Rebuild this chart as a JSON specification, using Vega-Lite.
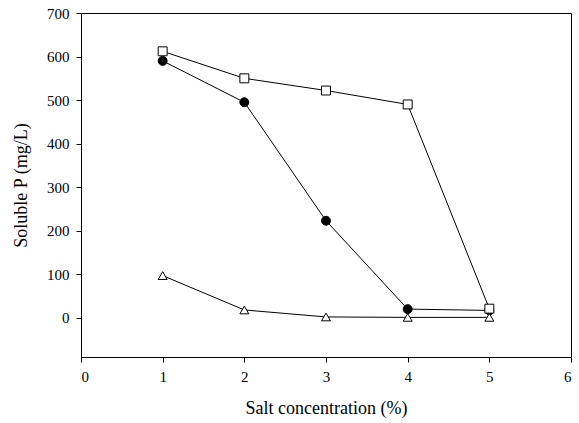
{
  "$schema": "https://vega.github.io/schema/vega-lite/v6.json",
  "width": 490,
  "height": 344,
  "autosize": {"type": "none"},
  "padding": {"left": 81, "top": 13, "right": 8, "bottom": 66},
  "background": "white",
  "config": {
    "view": {"stroke": "black", "strokeWidth": 1},
    "font": "Liberation Serif",
    "axis": {
      "labelFont": "Liberation Serif",
      "titleFont": "Liberation Serif",
      "labelFontSize": 15,
      "titleFontSize": 18,
      "titleFontWeight": "normal",
      "labelColor": "black",
      "titleColor": "black",
      "domainColor": "black",
      "tickColor": "black",
      "grid": false,
      "tickSize": 5
    }
  },
  "data": {
    "values": [
      {"salt": 1, "P": 590, "series": "B"},
      {"salt": 2, "P": 495, "series": "B"},
      {"salt": 3, "P": 223, "series": "B"},
      {"salt": 4, "P": 20, "series": "B"},
      {"salt": 5, "P": 17, "series": "B"},
      {"salt": 1, "P": 97, "series": "C"},
      {"salt": 2, "P": 18, "series": "C"},
      {"salt": 3, "P": 2, "series": "C"},
      {"salt": 4, "P": 1, "series": "C"},
      {"salt": 5, "P": 1, "series": "C"},
      {"salt": 1, "P": 612, "series": "A"},
      {"salt": 2, "P": 550, "series": "A"},
      {"salt": 3, "P": 522, "series": "A"},
      {"salt": 4, "P": 490, "series": "A"},
      {"salt": 5, "P": 21, "series": "A"}
    ]
  },
  "encoding": {
    "x": {
      "field": "salt", "type": "quantitative",
      "scale": {"domain": [0, 6], "nice": false},
      "axis": {"values": [0, 1, 2, 3, 4, 5, 6], "title": "Salt concentration (%)", "titlePadding": 15, "labelPadding": 7}
    },
    "y": {
      "field": "P", "type": "quantitative",
      "scale": {"domain": [-90, 700], "nice": false, "zero": false},
      "axis": {"values": [0, 100, 200, 300, 400, 500, 600, 700], "title": "Soluble P (mg/L)", "titlePadding": 16, "labelPadding": 7}
    }
  },
  "layer": [
    {
      "mark": {"type": "line", "color": "black", "strokeWidth": 1},
      "encoding": {"detail": {"field": "series"}}
    },
    {
      "mark": {"type": "point", "filled": true, "stroke": "black", "strokeWidth": 1, "opacity": 1, "size": 80},
      "encoding": {
        "shape": {"field": "series", "type": "nominal", "scale": {"domain": ["A", "B", "C"], "range": ["square", "circle", "triangle-up"]}, "legend": null},
        "fill": {"field": "series", "type": "nominal", "scale": {"domain": ["A", "B", "C"], "range": ["white", "black", "white"]}, "legend": null}
      }
    }
  ]
}
